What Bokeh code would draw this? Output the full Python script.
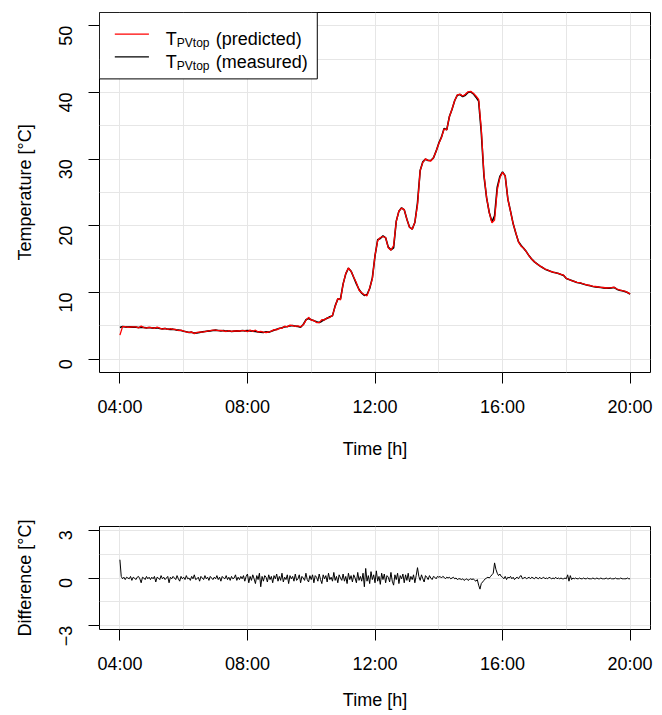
import math
import numpy as np
from bokeh.plotting import figure
from bokeh.models import Range1d, FixedTicker
from bokeh.layouts import column
from bokeh.embed import file_html
from bokeh.resources import INLINE
from bokeh.core.properties import value

# ---------------- data ----------------
# measured temperature: 5-minute samples from 04:00 to 20:00 (time in hours)
minutes_t = np.arange(0, 16 * 60 + 1, 5)
time_t = 4 + minutes_t / 60.0
# difference: 2.5-minute samples from 04:00 to 20:00
minutes_d = np.arange(0, 16 * 60 + 0.1, 2.5)
time_d = 4 + minutes_d / 60.0

# measured PV top temperature [degC]
measured = [
    4.75, 4.9, 4.85, 4.8, 4.85, 4.8, 4.8, 4.75, 4.8, 4.75, 4.7, 4.75,
    4.7, 4.65, 4.7, 4.6, 4.55, 4.6, 4.5, 4.45, 4.5, 4.4, 4.35, 4.3,
    4.2, 4.1, 4.0, 4.05, 3.9, 3.95, 4.0, 4.1, 4.15, 4.2, 4.25, 4.3,
    4.35, 4.3, 4.25, 4.3, 4.2, 4.25, 4.15, 4.2, 4.25, 4.2, 4.3, 4.25,
    4.3, 4.25, 4.2, 4.15, 4.1, 4.05, 4.0, 4.1, 4.05, 4.2, 4.35, 4.5,
    4.6, 4.7, 4.85, 4.9, 5.0, 5.05, 4.95, 4.9, 4.8, 5.2, 5.9, 6.1,
    5.9, 5.75, 5.6, 5.5, 5.7, 5.95, 6.15, 6.35, 6.5, 8.0, 9.0, 9.0,
    11.3, 12.8, 13.65, 13.2, 12.25, 11.3, 10.45, 9.9, 9.55, 9.7, 10.6, 12.2,
    15.5, 17.9, 18.1, 18.5, 18.2, 16.8, 16.4, 16.7, 20.7, 22.2, 22.7, 22.4,
    21.0, 19.8, 19.5, 20.5, 23.5, 28.3, 29.6, 30.0, 29.8, 29.8, 30.2, 31.2,
    32.4, 33.3, 34.6, 34.4, 36.4, 37.5, 38.8, 39.6, 39.7, 39.4, 39.6, 40.0,
    40.1, 39.8, 39.3, 38.7, 34.0, 27.5, 24.2, 22.0, 20.6, 21.5, 25.8, 27.4,
    28.1, 27.5, 24.0, 22.2, 20.3, 18.9, 17.6, 17.05, 16.6, 16.1, 15.5, 15.0,
    14.6, 14.3, 14.0, 13.75, 13.5, 13.35, 13.2, 13.05, 12.95, 12.85, 12.7, 12.55,
    12.1, 11.95, 11.8, 11.65, 11.5, 11.45, 11.3, 11.2, 11.1, 11.0, 10.9, 10.85,
    10.8, 10.75, 10.7, 10.65, 10.65, 10.7, 10.75, 10.5, 10.35, 10.25, 10.15, 10.0,
    9.75,
]

# difference (measured - predicted) [degC]
difference = [
    # 04:00
    1.15, 0.1, -0.05, 0.05, -0.1, 0.05, 0.0, -0.05, 0.1, -0.15, 0.05, 0.0,
    -0.1, 0.05, 0.1, -0.05, -0.3, 0.05, 0.0, -0.1, 0.1, -0.05, 0.05, -0.1,
    # 05:00
    0.05, -0.05, 0.1, -0.25, 0.05, 0.0, -0.1, 0.15, -0.05, 0.05, -0.1, 0.0,
    0.1, -0.3, 0.05, -0.05, 0.1, 0.0, -0.1, 0.15, -0.05, -0.2, 0.1, -0.05,
    # 06:00
    0.05, -0.1, 0.15, -0.05, 0.0, -0.15, 0.1, -0.05, 0.2, -0.1, -0.05, 0.05,
    -0.2, 0.1, 0.0, -0.1, 0.15, -0.05, 0.05, -0.15, 0.1, 0.0, -0.1, 0.05,
    # 07:00
    -0.05, 0.15, -0.1, 0.05, -0.2, 0.1, 0.0, -0.05, 0.15, -0.1, 0.05, -0.15,
    0.1, -0.05, 0.0, 0.2, -0.15, 0.05, -0.1, 0.1, -0.05, 0.15, -0.2, 0.1,
    # 08:00
    0.25, -0.3, 0.1, -0.15, 0.2, -0.05, -0.35, 0.15, -0.1, 0.3, -0.55, 0.1,
    -0.2, 0.15, 0.05, -0.25, 0.2, -0.1, 0.1, -0.3, 0.15, -0.05, 0.25, -0.2,
    # 09:00
    0.1, -0.15, 0.3, -0.25, 0.05, -0.1, 0.2, -0.35, 0.15, -0.05, 0.1, -0.2,
    0.25, -0.15, -0.05, 0.2, -0.3, 0.1, 0.0, -0.15, 0.3, -0.1, -0.25, 0.15,
    # 10:00
    -0.1, 0.2, -0.3, 0.15, 0.05, -0.2, 0.25, -0.1, -0.35, 0.2, -0.05, 0.15,
    -0.25, 0.3, -0.1, 0.05, -0.2, 0.35, -0.15, 0.1, -0.3, 0.2, 0.0, -0.15,
    # 11:00
    0.25, -0.2, 0.1, -0.35, 0.3, -0.1, 0.15, -0.25, 0.2, 0.0, -0.3, 0.35,
    -0.15, 0.1, -0.2, 0.3, -0.55, 0.6, -0.2, 0.15, -0.35, 0.4, -0.1, 0.2,
    # 12:00
    -0.3, 0.45, -0.2, 0.1, -0.4, 0.3, -0.1, 0.25, -0.3, 0.15, 0.05, -0.25,
    0.35, -0.2, -0.45, 0.2, -0.1, 0.3, -0.35, 0.15, -0.05, 0.25, -0.3, 0.2,
    # 13:00
    -0.15, 0.3, -0.25, 0.1, -0.1, 0.2, -0.3, 0.15, 0.65, 0.1, -0.15, 0.2,
    -0.05, -0.25, 0.15, 0.05, -0.1, 0.15, 0.0, -0.1, 0.1, 0.05, -0.05, 0.1,
    # 14:00
    0.05, 0.1, 0.0, 0.1, 0.05, -0.05, 0.05, 0.0, 0.05, -0.05, 0.0, 0.05,
    -0.05, 0.0, -0.1, -0.05, -0.05, -0.1, -0.05, -0.15, -0.1, -0.05, -0.15, -0.1,
    # 15:00
    -0.05, -0.1, -0.05, -0.15, -0.2, -0.1, -0.45, -0.7, -0.35, -0.25, -0.15, -0.05,
    0.0, 0.05, 0.0, 0.1, 0.2, 0.3, 0.95, 0.55, 0.3, 0.15, 0.25, 0.1,
    # 16:00
    0.05, -0.05, 0.1, -0.1, 0.05, 0.0, 0.1, -0.05, 0.05, -0.1, 0.0, 0.05,
    -0.05, 0.1, 0.15, -0.05, 0.0, 0.05, -0.05, 0.0, 0.05, -0.05, 0.05, 0.0,
    # 17:00
    -0.05, 0.05, 0.0, -0.05, 0.05, -0.05, 0.0, 0.05, -0.05, 0.0, -0.05, 0.05,
    0.0, -0.05, 0.0, -0.05, 0.05, -0.05, 0.0, -0.05, 0.0, -0.05, -0.05, 0.0,
    # 18:00
    -0.05, 0.2, -0.2, 0.15, -0.1, 0.0, -0.05, 0.0, -0.05, -0.05, 0.0, -0.05,
    -0.05, 0.0, -0.05, -0.05, 0.0, -0.05, -0.05, -0.05, 0.0, -0.05, -0.05, 0.0,
    # 19:00
    -0.05, -0.05, 0.0, -0.05, -0.05, -0.05, 0.0, -0.05, -0.05, 0.0, -0.05, -0.05,
    -0.05, 0.0, -0.05, -0.05, -0.05, 0.0, -0.05, -0.05, -0.05, -0.05, 0.0, -0.05,
    # 20:00
    -0.05,
]

# predicted = measured - difference (difference averaged onto the 5-min grid)
_d = np.array(difference)
_d5 = np.concatenate([[_d[0]], (_d[1::2] + _d[2::2]) / 2.0])
predicted = np.array(measured) - _d5

x_ticks = [4, 8, 12, 16, 20]
x_tick_labels = ["04:00", "08:00", "12:00", "16:00", "20:00"]
x_grid = [4, 6, 8, 10, 12, 14, 16, 18, 20]
temp_ticks = [0, 10, 20, 30, 40, 50]
temp_grid = [0, 5, 10, 15, 20, 25, 30, 35, 40, 45, 50]
temp_lim = (0, 50)
diff_ticks = [-3, 0, 3]
diff_tick_labels = ["\u22123", "0", "3"]
diff_grid = [-3, -1.5, 0, 1.5, 3]
diff_lim = (-3, 3)

legend_labels = ["(predicted)", "(measured)"]
legend_colors = ["#ff0000", "#000000"]

# ---------------- styling ----------------
FONT = "Liberation Sans"
GRID = "#e6e6e6"
FRAME_L, FRAME_R = 99, 10
FIG_W = 660


def pad(lo, hi, f=0.04):
    d = (hi - lo) * f
    return lo - d, hi + d


x_lo, x_hi = pad(min(time_t), max(time_t))


def style(p, yticks, ygrid, ylabel, ylabels=None, xlabel_standoff=19):
    p.outline_line_color = "black"
    p.outline_line_width = 1
    p.outline_line_alpha = 1
    p.background_fill_color = "white"
    p.border_fill_color = "white"
    p.xaxis.ticker = FixedTicker(ticks=x_ticks)
    p.xaxis.major_label_overrides = dict(zip(x_ticks, x_tick_labels))
    p.yaxis.ticker = FixedTicker(ticks=yticks)
    if ylabels:
        p.yaxis.major_label_overrides = dict(zip(yticks, ylabels))
    p.xgrid.ticker = FixedTicker(ticks=x_grid)
    p.ygrid.ticker = FixedTicker(ticks=ygrid)
    for g in (p.xgrid, p.ygrid):
        g.grid_line_color = GRID
        g.grid_line_width = 1
    for ax in (p.xaxis[0], p.yaxis[0]):
        ax.axis_line_color = None
        ax.major_tick_line_color = "black"
        ax.major_tick_line_width = 1
        ax.major_tick_in = 0
        ax.major_tick_out = 11
        ax.minor_tick_line_color = None
        ax.major_label_text_font = FONT
        ax.major_label_text_font_size = "18px"
        ax.major_label_text_color = "black"
        ax.axis_label_text_font = FONT
        ax.axis_label_text_font_size = "18px"
        ax.axis_label_text_font_style = "normal"
        ax.axis_label_text_color = "black"
    p.xaxis.axis_label = "Time [h]"
    p.xaxis.major_label_standoff = 13
    p.xaxis.axis_label_standoff = xlabel_standoff
    p.yaxis.axis_label = ylabel
    p.yaxis.major_label_orientation = math.pi / 2
    p.yaxis.major_label_standoff = 23
    p.yaxis.axis_label_standoff = 15


# ---------------- top panel ----------------
t_lo, t_hi = pad(*temp_lim)
p1 = figure(width=FIG_W, height=478, output_backend="svg", toolbar_location=None,
            x_range=Range1d(x_lo, x_hi), y_range=Range1d(t_lo, t_hi),
            min_border_left=FRAME_L, min_border_right=FRAME_R, min_border_top=12,
            min_border_bottom=106)
style(p1, temp_ticks, temp_grid, "Temperature [\u00b0C]")

p1.line(time_t, measured, line_color="black", line_width=1.6)
p1.line(time_t, predicted, line_color="#ff0000", line_width=1.3)

# legend (drawn by hand to allow the subscript)
leg_right, leg_bottom = 10.19, 42.04
p1.quad(left=[x_lo], right=[leg_right], bottom=[leg_bottom], top=[t_hi],
        fill_color="white", line_color="black", line_width=1)
leg_line_y = [48.75, 45.35]
leg_text_y = [48.0, 44.64]
for yl, col in zip(leg_line_y, legend_colors):
    p1.line([3.84, 4.91], [yl, yl], line_color=col, line_width=1.2)
p1.text(x=[5.44, 5.44], y=leg_text_y, text=["T", "T"],
        text_font=value(FONT), text_font_size="18px", text_color="black",
        text_baseline="alphabetic", text_align="left")
p1.text(x=[5.44, 5.44], y=leg_text_y, text=["PVtop", "PVtop"],
        x_offset=11, y_offset=4,
        text_font=value(FONT), text_font_size="12px", text_color="black",
        text_baseline="alphabetic", text_align="left")
p1.text(x=[5.44, 5.44], y=leg_text_y, text=legend_labels,
        x_offset=50,
        text_font=value(FONT), text_font_size="18px", text_color="black",
        text_baseline="alphabetic", text_align="left")

# ---------------- bottom panel ----------------
d_lo, d_hi = pad(*diff_lim)
B_TOP, B_FRAME, B_BOTTOM = 48, 103, 86
p2 = figure(width=FIG_W, height=B_TOP + B_FRAME + B_BOTTOM, output_backend="svg",
            toolbar_location=None,
            x_range=Range1d(x_lo, x_hi), y_range=Range1d(d_lo, d_hi),
            min_border_left=FRAME_L, min_border_right=FRAME_R, min_border_top=B_TOP,
            min_border_bottom=B_BOTTOM)
style(p2, diff_ticks, diff_grid, "Difference [\u00b0C]", diff_tick_labels,
      xlabel_standoff=13)
p2.line(time_d, difference, line_color="black", line_width=1)

layout = column(p1, p2)

open("out.html", "w").write(file_html(layout, INLINE))
